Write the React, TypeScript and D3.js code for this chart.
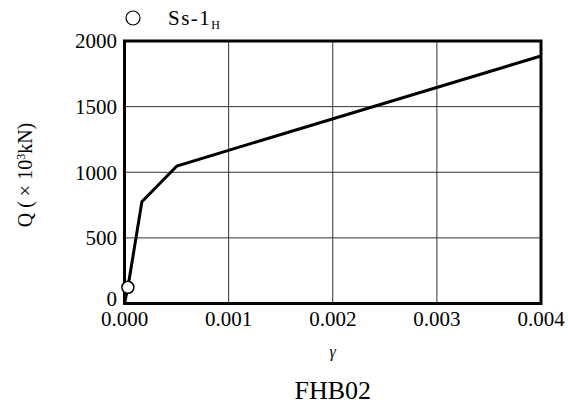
import React from "react";
import * as d3 from "d3";

const gammaValues = [0, 0.0000326, 0.000167, 0.000503, 0.004];
const qValues = [0, 123, 776, 1048, 1886];
const markerGamma = [0.0000326];
const markerQ = [123];
const xTicks = [0, 0.001, 0.002, 0.003, 0.004];
const yTicks = [0, 500, 1000, 1500, 2000];
const seriesName = "Ss-1";
const seriesSub = "H";
const chartTitle = "FHB02";

const W = 568;
const H = 408;
const L = 124.5;
const R = 541;
const T = 41;
const B = 303.5;
const FONT = "Liberation Serif, DejaVu Serif, serif";

export default function App() {
  const x = d3.scaleLinear().domain([0, 0.004]).range([L, R]);
  const y = d3.scaleLinear().domain([0, 2000]).range([B, T]);
  const pts = gammaValues.map((g, i) => [g, qValues[i]] as [number, number]);
  const line = d3
    .line<[number, number]>()
    .x((d) => x(d[0]))
    .y((d) => y(d[1]));

  return (
    <svg
      width={W}
      height={H}
      style={{ position: "absolute", left: 0, top: 0, background: "#fff" }}
    >
      <rect x={0} y={0} width={W} height={H} fill="#fff" />
      {xTicks.slice(1, -1).map((t) => (
        <line key={"gx" + t} x1={x(t)} x2={x(t)} y1={T} y2={B} stroke="#333" strokeWidth={1} />
      ))}
      {yTicks.slice(1, -1).map((t) => (
        <line key={"gy" + t} x1={L} x2={R} y1={y(t)} y2={y(t)} stroke="#333" strokeWidth={1} />
      ))}
      <rect x={L} y={T} width={R - L} height={B - T} fill="none" stroke="#000" strokeWidth={3} />
      <path d={line(pts) || ""} fill="none" stroke="#000" strokeWidth={3} strokeLinejoin="miter" />
      {markerGamma.map((g, i) => (
        <circle key={"m" + i} cx={x(g)} cy={y(markerQ[i])} r={6} fill="#fff" stroke="#000" strokeWidth={1.5} />
      ))}
      {xTicks.map((t) => (
        <text key={"xt" + t} x={x(t)} y={326} textAnchor="middle" fontFamily={FONT} fontSize={21} fill="#000">
          {d3.format(".3f")(t)}
        </text>
      ))}
      {yTicks.map((t) => (
        <text key={"yt" + t} x={117} y={t === 0 ? y(t) - 5 : y(t)} dy="0.35em" textAnchor="end" fontFamily={FONT} fontSize={21} fill="#000">
          {t}
        </text>
      ))}
      <text x={(L + R) / 2} y={357} textAnchor="middle" fontFamily={FONT} fontSize={16} fontStyle="italic" fill="#000">
        γ
      </text>
      <text
        transform={`translate(32,175) rotate(-90)`}
        textAnchor="middle"
        fontFamily={FONT}
        fontSize={20}
        fill="#000"
      >
        Q ( × 10<tspan dy={-7} fontSize={12}>3</tspan><tspan dy={7}>kN)</tspan>
      </text>
      <circle cx={133} cy={18} r={7} fill="#fff" stroke="#000" strokeWidth={1.2} />
      <text x={168} y={25} fontFamily={FONT} fontSize={21} letterSpacing={1.5} fill="#000">
        {seriesName}
        <tspan dy={4} fontSize={12} letterSpacing={0}>{seriesSub}</tspan>
      </text>
      <text x={(L + R) / 2} y={399} textAnchor="middle" fontFamily={FONT} fontSize={26} fill="#000">
        {chartTitle}
      </text>
    </svg>
  );
}
